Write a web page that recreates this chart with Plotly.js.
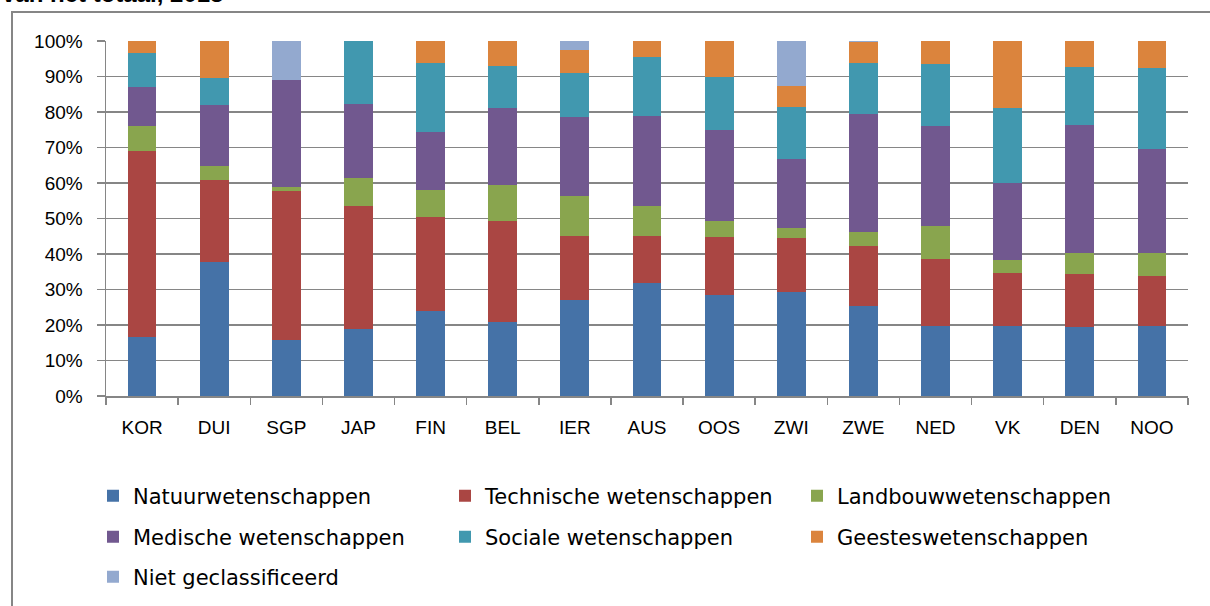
<!DOCTYPE html>
<html>
<head>
<meta charset="utf-8">
<script src="https://cdn.plot.ly/plotly-3.0.1.min.js"></script>
<style>
  html, body { margin: 0; padding: 0; background: #fff; }
  #chart { width: 1210px; height: 606px; }
</style>
</head>
<body>
<div id="chart"></div>
<script>
var landen = ["KOR", "DUI", "SGP", "JAP", "FIN", "BEL", "IER", "AUS", "OOS", "ZWI", "ZWE", "NED", "VK", "DEN", "NOO"];

var natuur     = [16.6, 37.8, 15.8, 18.9, 23.9, 20.8, 27.1, 31.8, 28.4, 29.4, 25.4, 19.8, 19.8, 19.4, 19.8];
var technisch  = [52.3, 23.0, 41.9, 34.6, 26.5, 28.4, 17.9, 13.2, 16.3, 15.1, 16.8, 18.8, 14.8, 14.9, 14.0];
var landbouw   = [7.1, 3.9, 1.1, 7.9, 7.6, 10.2, 11.3, 8.5, 4.5, 2.8, 4.0, 9.2, 3.7, 5.9, 6.4];
var medisch    = [11.0, 17.2, 30.1, 20.9, 16.4, 21.7, 22.2, 25.3, 25.8, 19.4, 33.3, 28.2, 21.6, 36.1, 29.3];
var sociaal    = [9.5, 7.7, 0, 17.7, 19.3, 11.9, 12.4, 16.6, 14.8, 14.6, 14.2, 17.5, 21.2, 16.3, 22.8];
var geestes    = [3.5, 10.4, 0, 0, 6.3, 7.0, 6.6, 4.6, 10.2, 6.0, 6.1, 6.5, 18.9, 7.4, 7.7];
var nietGeclas = [0, 0, 11.1, 0, 0, 0, 2.5, 0, 0, 12.7, 0.2, 0, 0, 0, 0];

var reeksen = [
  { naam: "Natuurwetenschappen", y: natuur, kleur: "#4572A7", legend: "legend" },
  { naam: "Technische wetenschappen", y: technisch, kleur: "#AA4643", legend: "legend" },
  { naam: "Landbouwwetenschappen", y: landbouw, kleur: "#89A54E", legend: "legend" },
  { naam: "Medische wetenschappen", y: medisch, kleur: "#71588F", legend: "legend2" },
  { naam: "Sociale wetenschappen", y: sociaal, kleur: "#4198AF", legend: "legend2" },
  { naam: "Geesteswetenschappen", y: geestes, kleur: "#DB843D", legend: "legend2" },
  { naam: "Niet geclassificeerd", y: nietGeclas, kleur: "#93A9CF", legend: "legend3" }
];

var data = reeksen.map(function (r) {
  return {
    type: "bar",
    name: r.naam,
    x: landen,
    y: r.y,
    legend: r.legend,
    marker: { color: r.kleur, line: { width: 0 } },
    hoverinfo: "skip"
  };
});

var grijs = "#868686";

// plot area: x 106..1188, y 41..396
var pl = 106, pr = 1188, pt = 41, pb = 396;
function px(x) { return (x - pl) / (pr - pl); }
function py(y) { return (pb - y) / (pb - pt); }

function legendaRij(yPix) {
  return {
    orientation: "h",
    xref: "container", yref: "container",
    x: 93 / 1210, xanchor: "left",
    y: 1 - yPix / 606, yanchor: "middle",
    entrywidth: 307, entrywidthmode: "pixels",
    bgcolor: "rgba(0,0,0,0)",
    borderwidth: 0,
    font: { family: "DejaVu Sans, sans-serif", size: 21, color: "#000" },
    traceorder: "normal"
  };
}

var layout = {
  width: 1210,
  height: 606,
  margin: { l: pl, r: 1210 - pr, t: pt, b: 606 - pb, pad: 0 },
  paper_bgcolor: "#fff",
  plot_bgcolor: "#fff",
  barmode: "stack",
  bargap: 0.6,
  showlegend: true,
  font: { family: "Liberation Sans, Arial, sans-serif", size: 19, color: "#000" },
  xaxis: {
    type: "category",
    showline: true,
    linecolor: grijs,
    linewidth: 1.5,
    ticks: "outside",
    tickson: "boundaries",
    ticklen: 7,
    tickcolor: grijs,
    tickwidth: 1.5,
    ticklabelstandoff: 14,
    showgrid: false,
    tickfont: { size: 19 }
  },
  yaxis: {
    range: [0, 100],
    dtick: 10,
    ticksuffix: "%",
    showline: true,
    linecolor: grijs,
    linewidth: 1.5,
    ticks: "outside",
    ticklen: 8,
    tickcolor: grijs,
    tickwidth: 1.5,
    ticklabelstandoff: 10,
    showgrid: true,
    gridcolor: grijs,
    gridwidth: 1.5,
    zeroline: false,
    tickfont: { size: 19 }
  },
  legend: legendaRij(496),
  legend2: legendaRij(537),
  legend3: legendaRij(577),
  shapes: [
    {
      type: "rect", xref: "paper", yref: "paper", layer: "below",
      x0: px(12), x1: px(1220), y0: py(620), y1: py(12),
      line: { color: grijs, width: 2 }, fillcolor: "rgba(0,0,0,0)"
    }
  ],
  annotations: [
    {
      text: "<b>van het totaal, 2013</b>",
      xref: "paper", yref: "paper",
      x: px(0), xanchor: "left",
      y: py(9), yanchor: "bottom",
      showarrow: false,
      font: { family: "Liberation Sans, Arial, sans-serif", size: 24, color: "#000" }
    }
  ]
};

var config = { staticPlot: true, displayModeBar: false };

Plotly.newPlot("chart", data, layout, config);
</script>
</body>
</html>
